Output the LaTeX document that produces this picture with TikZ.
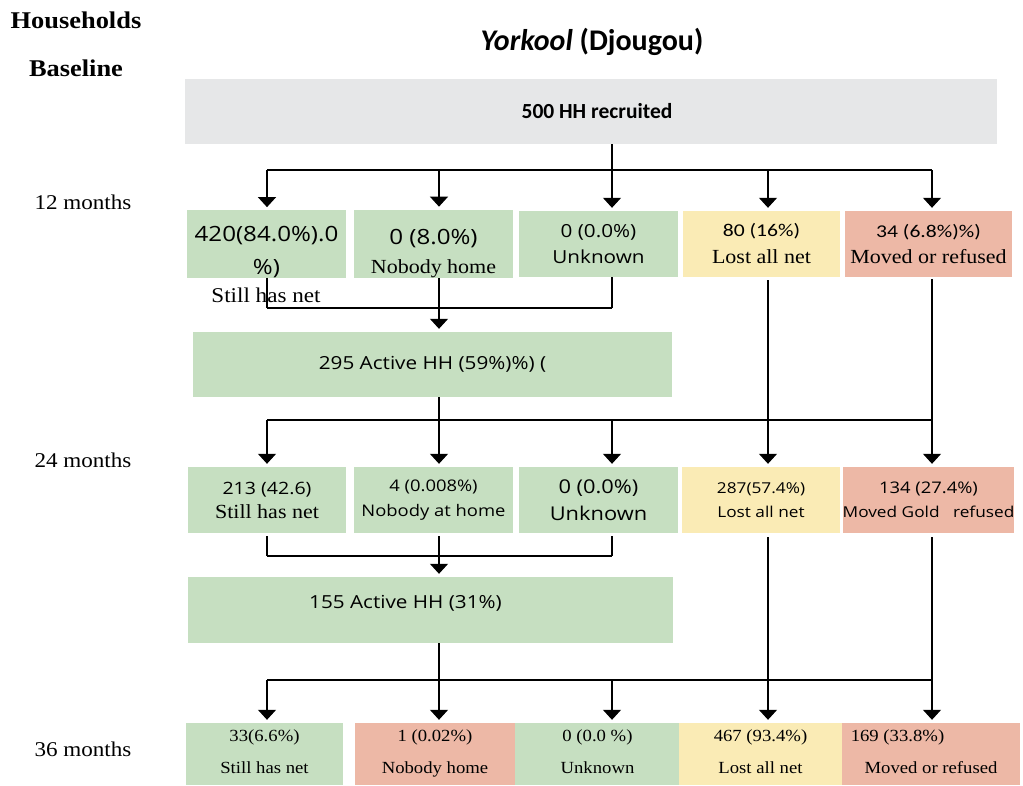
\documentclass[tikz,border=0pt]{standalone}
\usepackage{fontspec}
\setmainfont{Liberation Serif}
\newfontfamily\serf[FakeStretch=1.1]{Liberation Serif}
\newfontfamily\sanf[FakeStretch=1.15]{Open Sans}
\newfontfamily\calf[FakeStretch=1.2]{Carlito}
\newfontfamily\calt{Carlito}
\newcommand{\fsz}[1]{\fontsize{#1pt}{#1pt}\selectfont}
\usepackage{xcolor}
\usetikzlibrary{arrows.meta, calc}
\definecolor{hhgray}{RGB}{230,231,232}
\definecolor{hhgreen}{RGB}{198,223,193}
\definecolor{hhyellow}{RGB}{250,235,181}
\definecolor{hhred}{RGB}{237,184,166}
\tikzstyle{hhbox}     = [rectangle, inner sep=0pt, align=center,
                         minimum height=66pt, minimum width=159pt]
\tikzstyle{stillbox}  = [hhbox, fill=hhgreen]
\tikzstyle{lostbox}   = [hhbox, fill=hhyellow]
\tikzstyle{gonebox}   = [hhbox, fill=hhred]
\tikzstyle{activebox} = [hhbox, fill=hhgreen, font=\sanf\fsz{18}]
\tikzstyle{headfont}  = [font=\serf\bfseries\fsz{24}]
\tikzstyle{rowlabel}  = [font=\serf\fsz{21}]
\tikzstyle{conn}      = [line width=1.1pt]
\tikzstyle{arrow}     = [conn, -{Triangle[length=10pt,width=18pt]}, shorten >=3pt]
\tikzset{leading/.style={font=\fontsize{10pt}{#1}\selectfont}}

\begin{document}
\begin{tikzpicture}[x=1pt, y=-1pt]
  \useasboundingbox (0,0) rectangle (1023,785);

  % Headings
  \node[headfont] (hh) at (76,20) {Households};
  \node[headfont] (base) at (76,68) {Baseline};
  \node[font=\calt\bfseries\fsz{30}] (title) at (592,42) {\itshape Yorkool\/\upshape{} (Djougou)};

  % Row labels
  \node[rowlabel] (m12) at (83,202) {12 months};
  \node[rowlabel] (m24) at (83,460) {24 months};
  \node[rowlabel] (m36) at (83,749) {36 months};

  % Columns and buses
  \coordinate (c1) at (267,0);
  \coordinate (c2) at (439,0);
  \coordinate (c3) at (612,0);
  \coordinate (c4) at (768,0);
  \coordinate (c5) at (932,0);
  \coordinate (bus1) at (0,170);
  \coordinate (join1) at (0,308);
  \coordinate (bus2) at (0,420);
  \coordinate (join2) at (0,556);
  \coordinate (bus3) at (0,680);

  % Baseline
  \node[hhbox, fill=hhgray, minimum width=812pt, minimum height=65pt,
        font=\calt\bfseries\fsz{21.5}] (recruit) at (591,111.5) {\hspace*{12pt}500 HH recruited};

  % 12 months
  \node[stillbox, leading=33pt] (r1a) at (266.5,244) {\rule{0pt}{31pt}\sanf\fsz{21}420(84.0\%).0\\\sanf\fsz{21}\%)};
  \node[stillbox, leading=29pt] (r1b) at (433.5,244) {\rule{0pt}{35pt}\sanf\fsz{21}0 (8.0\%)\\\serf\fsz{20}Nobody home};
  \node[stillbox, leading=26pt] (r1c) at (598.5,244) {\sanf\fsz{18}0 (0.0\%)\\\sanf\fsz{18}Unknown};
  \node[lostbox, leading=27pt, minimum width=157pt] (r1d) at (761.5,244) {\calf\fsz{18}80 (16\%)\\\serf\fsz{20}Lost all net};
  \node[gonebox, leading=26pt, minimum width=167pt] (r1e) at (928.5,244) {\calf\fsz{18}34 (6.8\%)\%)\\\serf\fsz{20}Moved or refused};
  \node[font=\serf\fsz{21}] (r1anote) at (266,295) {Still has net};

  \node[activebox, minimum width=479pt, minimum height=65pt] (active1) at (432.5,364.5) {295 Active HH (59\%)\%) (};

  % 24 months
  \node[stillbox, leading=24pt, minimum width=158pt] (r2a) at (267,500) {\sanf\fsz{17}213 (42.6)\\\serf\fsz{20}Still has net};
  \node[stillbox, leading=25pt] (r2b) at (433.5,500) {\sanf\fsz{16}4 (0.008\%)\\\sanf\fsz{16}Nobody at home};
  \node[stillbox, leading=27pt] (r2c) at (598.5,500) {\sanf\fsz{19}0 (0.0\%)\\\sanf\fsz{19}Unknown};
  \node[lostbox, leading=24pt, minimum width=158pt] (r2d) at (761,500) {\sanf\fsz{15}287(57.4\%)\\\sanf\fsz{15}Lost all net};
  \node[gonebox, leading=24pt, minimum width=167pt] (r2e) at (928.5,500) {\sanf\fsz{16}134 (27.4\%)\\\sanf\fsz{15}Moved Gold\ \ \ refused};

  \node[activebox, minimum width=485pt,
        label={[xshift=-25pt, yshift=7pt, font=\sanf\fsz{18}]center:155 Active HH (31\%)}] (active2) at (430.5,610) {};

  % 36 months
  \node[stillbox, leading=32pt, minimum height=62pt, minimum width=157pt] (r3a) at (264.5,754) {\serf\fsz{17}33(6.6\%)\\\serf\fsz{17}Still has net\rule[-5pt]{0pt}{5pt}};
  \node[gonebox, leading=32pt, minimum height=62pt, minimum width=160pt] (r3b) at (435,754) {\serf\fsz{17}1 (0.02\%)\\\serf\fsz{17}Nobody home\rule[-5pt]{0pt}{5pt}};
  \node[stillbox, leading=32pt, minimum height=62pt, minimum width=165pt] (r3c) at (597.5,754) {\serf\fsz{17}0 (0.0 \%)\\\serf\fsz{17}Unknown\rule[-5pt]{0pt}{5pt}};
  \node[lostbox, leading=32pt, minimum height=62pt, minimum width=163pt] (r3d) at (760.5,754) {\serf\fsz{17}467 (93.4\%)\\\serf\fsz{17}Lost all net\rule[-5pt]{0pt}{5pt}};
  \node[gonebox, leading=32pt, minimum height=62pt, minimum width=178pt] (r3e) at (931,754) {\serf\fsz{17}169 (33.8\%)\hspace*{67pt}\\\serf\fsz{17}Moved or refused\rule[-5pt]{0pt}{5pt}};

  % Baseline to 12 months
  \draw[conn] (recruit.south -| c3) -- (bus1 -| c3);
  \draw[conn] (bus1 -| c1) -- (bus1 -| c5);
  \foreach \n/\c in {r1a/c1, r1b/c2, r1c/c3, r1d/c4, r1e/c5}
    \draw[arrow] (bus1 -| \c) -- (\n.north -| \c);

  % Active at 12 months
  \foreach \n/\c in {r1a/c1, r1b/c2, r1c/c3}
    \draw[conn] (\n.south -| \c) -- (join1 -| \c);
  \draw[conn] (join1 -| c1) -- (join1 -| c3);
  \draw[arrow] (join1 -| c2) -- (active1.north -| c2);

  % 12 to 24 months
  \draw[conn] (active1.south -| c2) -- (bus2 -| c2);
  \draw[conn] (bus2 -| c1) -- (bus2 -| c5);
  \foreach \n/\c in {r2a/c1, r2b/c2, r2c/c3}
    \draw[arrow] (bus2 -| \c) -- (\n.north -| \c);
  \draw[arrow, shorten <=3pt] (r1d.south -| c4) -- (r2d.north -| c4);
  \draw[arrow, shorten <=2pt] (r1e.south -| c5) -- (r2e.north -| c5);

  % Active at 24 months
  \foreach \n/\c in {r2a/c1, r2b/c2, r2c/c3}
    \draw[conn, shorten <=3pt] (\n.south -| \c) -- (join2 -| \c);
  \draw[conn] (join2 -| c1) -- (join2 -| c3);
  \draw[arrow] (join2 -| c2) -- (active2.north -| c2);

  % 24 to 36 months
  \draw[conn] (active2.south -| c2) -- (bus3 -| c2);
  \draw[conn] (bus3 -| c1) -- (bus3 -| c5);
  \foreach \n/\c in {r3a/c1, r3b/c2, r3c/c3}
    \draw[arrow] (bus3 -| \c) -- (\n.north -| \c);
  \draw[arrow, shorten <=4pt] (r2d.south -| c4) -- (r3d.north -| c4);
  \draw[arrow, shorten <=4pt] (r2e.south -| c5) -- (r3e.north -| c5);
\end{tikzpicture}
\end{document}
